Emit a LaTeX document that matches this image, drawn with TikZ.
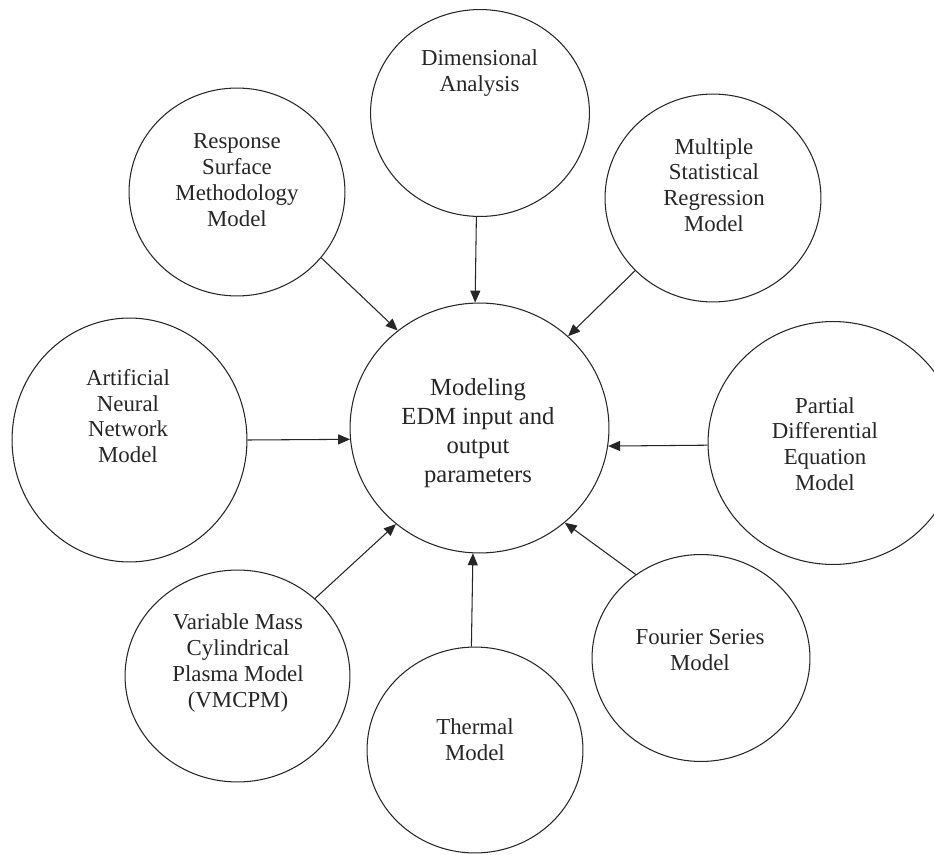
\documentclass[tikz,border=0pt]{standalone}
\usepackage{fontspec}
\setmainfont{Liberation Serif}
\usetikzlibrary{shapes.geometric,arrows.meta}
\begin{document}
\begin{tikzpicture}[x=0.02cm,y=-0.02cm,
  bub/.style 2 args={ellipse, draw=black!85, line width=0.6pt, minimum width=#1*0.04cm, minimum height=#2*0.04cm, inner sep=0pt},
  txt/.style={align=center, text=black!85, font=\fontsize{13}{14.7}\selectfont, inner sep=0pt},
  bigtxt/.style={align=center, text=black!85, font=\fontsize{14}{16.4}\selectfont, inner sep=0pt},
  link/.style={draw=black!85, line width=0.6pt, -{Triangle[length=6.8pt,width=5.7pt]}}]
\useasboundingbox (0,0) rectangle (934,855);
\fill[white] (0,0) rectangle (934,855);

% circles
\node[bub={129.5}{125}] (ctr) at (479.5,428) {};
\node[bub={109.5}{103.5}] (dim) at (480,113) {};
\node[bub={108}{104}] (rsm) at (237,192) {};
\node[bub={108}{104}] (msr) at (713,198) {};
\node[bub={117.5}{122}] (ann) at (129.5,440) {};
\node[bub={125}{121.5}] (pde) at (833,443) {};
\node[bub={112.5}{106}] (vmc) at (237.5,676) {};
\node[bub={108}{103}] (thm) at (475,750) {};
\node[bub={109}{103.5}] (fsm) at (701,658) {};

% texts
\node[bigtxt] (tctr) at (478,433) {Modeling\\EDM input and\\output\\parameters};
\node[txt] (tdim) at (479.5,73) {Dimensional\\Analysis};
\node[txt] (trsm) at (237,180) {Response\\Surface\\Methodology\\Model};
\node[txt] (tmsr) at (714,185) {Multiple\\Statistical\\Regression\\Model};
\node[txt] (tann) at (128,416) {Artificial\\Neural\\Network\\Model};
\node[txt] (tpde) at (825,444) {Partial\\Differential\\Equation\\Model};
\node[txt] (tvmc) at (238,663) {Variable Mass\\Cylindrical\\Plasma Model\\(VMCPM)};
\node[txt] (tthm) at (475,740) {Thermal\\Model};
\node[txt] (tfsm) at (700,650) {Fourier Series\\Model};

% connectors
\draw[link] (rsm.-38.7) -- (ctr.130.3);
\draw[link] (dim.-92.7) -- (ctr.92);
\draw[link] (msr.-137.7) -- (ctr.46.7);
\draw[link] (ann.0) -- (ctr.185.3);
\draw[link] (pde.181.8) -- (ctr.-8.4);
\draw[link] (vmc.45.5) -- (ctr.-131.7);
\draw[link] (thm.92.2) -- (ctr.-93.9);
\draw[link] (fsm.128.2) -- (ctr.-48);
\end{tikzpicture}
\end{document}
